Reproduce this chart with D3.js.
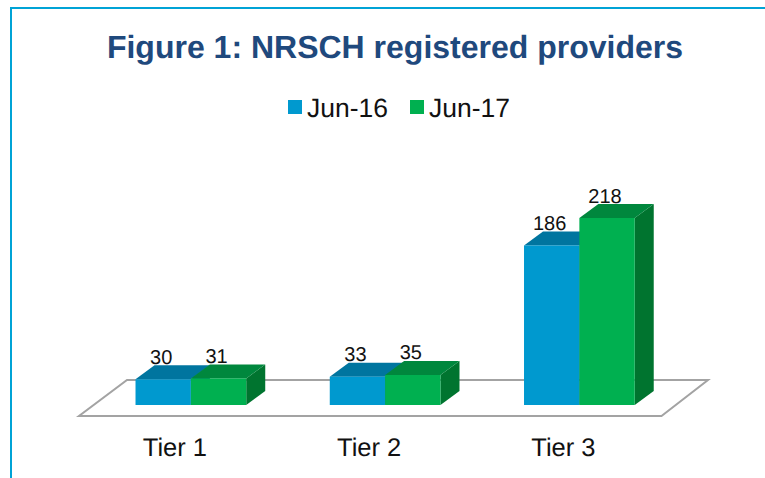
<!DOCTYPE html>
<html lang="en">
<head>
  <meta charset="UTF-8">
  <script src="https://d3js.org/d3.v7.min.js"></script>
  <title>Figure 1: NRSCH registered providers</title>
  <style>
    html, body { margin: 0; padding: 0; background: #fff; }
    svg { display: block; }
    text { font-family: "Liberation Sans", Arial, sans-serif; text-rendering: geometricPrecision; }
  </style>
</head>
<body>
  <script>
    const tiers = ["Tier 1", "Tier 2", "Tier 3"];
    const seriesNames = ["Jun-16", "Jun-17"];
    const jun16 = [30, 33, 186];
    const jun17 = [31, 35, 218];
    const frontColors = ["#0099cf", "#00b050"];
    const topColors = ["#00759f", "#00873d"];
    const sideColors = ["#005f82", "#00742f"];

    const width = 765;
    const height = 478;
    const depthX = 19;
    const depthY = 14;

    const svg = d3.select("body").append("svg")
                  .attr("width", width)
                  .attr("height", height);

    /* frame, only top and left edges show */
    svg.append("path")
      .attr("d", d3.line()([[11, height], [11, 8], [width, 8]]))
      .attr("fill", "none")
      .attr("stroke", "#00a3d6")
      .attr("stroke-width", 2);

    svg.append("text")
      .attr("x", 395)
      .attr("y", 58)
      .attr("text-anchor", "middle")
      .attr("font-size", 32)
      .attr("font-weight", "bold")
      .attr("fill", "#1f497d")
      .text("Figure 1: NRSCH registered providers");

    /* scales */
    const xScale = d3.scaleBand()
                    .domain(tiers)
                    .range([93.75, 676.5])
                    .paddingInner(0.43)
                    .paddingOuter(0.215);

    const xInner = d3.scaleBand()
                    .domain(seriesNames)
                    .range([0, xScale.bandwidth()]);

    const yScale = d3.scaleLinear()
                    .domain([0, 218])
                    .range([405, 218]);

    /* floor */
    const floorY = yScale(0) + 11;
    const floor = [[79, floorY], [661.5, floorY], [708, floorY - 36], [127, floorY - 36]];
    svg.append("path")
      .attr("d", d3.line().curve(d3.curveLinearClosed)(floor))
      .attr("fill", "#fff")
      .attr("stroke", "#a3a3a3")
      .attr("stroke-width", 2);

    /* bars */
    const bars = [];
    seriesNames.forEach((name, s) => {
      const values = s === 0 ? jun16 : jun17;
      tiers.forEach((tier, i) => bars.push({ tier, name, s, value: values[i] }));
    });

    const barG = svg.selectAll("g.bar")
      .data(bars)
      .enter()
      .append("g")
      .attr("class", "bar");

    const left = (d) => xScale(d.tier) + xInner(d.name);
    const right = (d) => left(d) + xInner.bandwidth();
    const line = d3.line().curve(d3.curveLinearClosed);

    barG.append("path")
      .attr("fill", (d) => sideColors[d.s])
      .attr("d", (d) => line([
        [right(d), yScale(d.value)],
        [right(d) + depthX, yScale(d.value) - depthY],
        [right(d) + depthX, yScale(0) - depthY],
        [right(d), yScale(0)]
      ]));

    barG.append("path")
      .attr("fill", (d) => topColors[d.s])
      .attr("d", (d) => line([
        [left(d), yScale(d.value)],
        [left(d) + depthX, yScale(d.value) - depthY],
        [right(d) + depthX, yScale(d.value) - depthY],
        [right(d), yScale(d.value)]
      ]));

    barG.append("rect")
      .attr("x", left)
      .attr("y", (d) => yScale(d.value))
      .attr("width", xInner.bandwidth())
      .attr("height", (d) => yScale(0) - yScale(d.value))
      .attr("fill", (d) => frontColors[d.s]);

    /* value labels */
    barG.append("text")
      .attr("x", (d) => left(d) + xInner.bandwidth() / 2 - 2)
      .attr("y", (d) => yScale(d.value) - 15.5)
      .attr("text-anchor", "middle")
      .attr("font-size", 20)
      .attr("fill", "#111")
      .text((d) => d.value);

    /* category axis */
    const xAxis = d3.axisBottom(xScale).tickSize(0);
    const axisG = svg.append("g")
      .attr("transform", `translate(-16, 435)`)
      .call(xAxis);
    axisG.select(".domain").remove();
    axisG.selectAll("text")
      .attr("font-family", "Liberation Sans, Arial, sans-serif")
      .attr("font-size", 25.5)
      .attr("fill", "#111");

    /* legend */
    const legendX = d3.scaleOrdinal().domain(seriesNames).range([288, 410]);
    const legendG = svg.selectAll("g.legend")
      .data(seriesNames)
      .enter()
      .append("g")
      .attr("class", "legend")
      .attr("transform", (d) => `translate(${legendX(d)}, 100)`);

    legendG.append("rect")
      .attr("width", 14)
      .attr("height", 14)
      .attr("fill", (d, i) => frontColors[i]);

    legendG.append("text")
      .attr("x", 19)
      .attr("y", 16.5)
      .attr("font-size", 26.5)
      .attr("fill", "#111")
      .text((d) => d);
  </script>
</body>
</html>
